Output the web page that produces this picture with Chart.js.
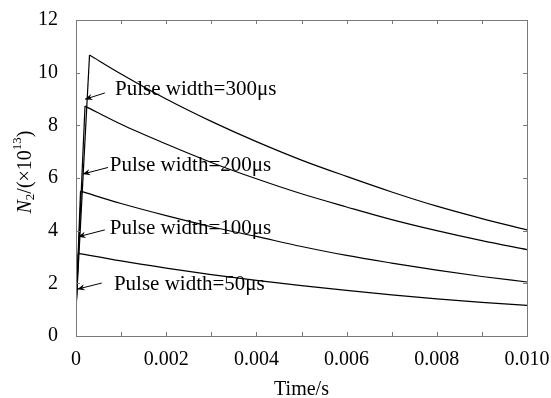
<!DOCTYPE html>
<html>
<head>
<meta charset="utf-8">
<script src="https://cdn.jsdelivr.net/npm/chart.js@4.4.1/dist/chart.umd.min.js"></script>
<style>
  html, body { margin: 0; padding: 0; background: #fff; }
  #wrap { width: 551px; height: 398px; }
</style>
</head>
<body>
<div id="wrap"><canvas id="chart"></canvas></div>
<script>
// pulse widths in μs, peak times in s
const pulseWidths = [300, 200, 100, 50];
const startValue = 1.0;
const peakTimes = [0.0003, 0.0002, 0.0001, 0.00005];
const peakValues = [10.67, 8.73, 5.5, 3.14];

// decay part, N2 in units of 1e13
const decayTimes = [0.001, 0.002, 0.003, 0.004, 0.005, 0.006, 0.007, 0.008, 0.009, 0.010];
const n300 = [9.95, 9.00, 8.15, 7.38, 6.68, 6.06, 5.47, 4.93, 4.46, 4.03];
const n200 = [8.04, 7.29, 6.59, 5.97, 5.40, 4.90, 4.42, 4.00, 3.62, 3.28];
const n100 = [5.03, 4.57, 4.15, 3.78, 3.40, 3.06, 2.77, 2.50, 2.26, 2.05];
const n50  = [2.85, 2.58, 2.33, 2.11, 1.91, 1.73, 1.56, 1.41, 1.28, 1.16];
const decays = [n300, n200, n100, n50];

const xTicks = [0, 0.002, 0.004, 0.006, 0.008, 0.010];
const yTicks = [0, 2, 4, 6, 8, 10, 12];

// annotation text + arrows, in data units (time, value)
const labelTexts = ['Pulse width=300μs', 'Pulse width=200μs', 'Pulse width=100μs', 'Pulse width=50μs'];
const labelPos   = [[0.000865, 9.38], [0.00075, 6.49], [0.00075, 4.10], [0.00084, 1.97]];
const arrowTips  = [[0.0002, 8.99], [0.00015, 6.15], [0.00005, 3.77], [0.00003, 1.78]];
const arrowTails = [[0.00064, 9.23], [0.00071, 6.40], [0.00064, 4.03], [0.00057, 2.01]];

const SERIF = '"Liberation Serif", "Times New Roman", serif';
const AXIS_GREY = '#7a7a7a';

let datasets = [];
pulseWidths.forEach((pw, i) => {
    // pulse on: straight rise
    datasets.push({
        label: pw + 'μs rise',
        data: [{ x: 0, y: startValue }, { x: peakTimes[i], y: peakValues[i] }],
        borderColor: '#000', borderWidth: 1.2, pointRadius: 0, tension: 0, fill: false
    });
    // pulse off: decay
    let pts = [{ x: peakTimes[i], y: peakValues[i] }];
    decayTimes.forEach((t, k) => pts.push({ x: t, y: decays[i][k] }));
    datasets.push({
        label: pw + 'μs',
        data: pts,
        borderColor: '#000', borderWidth: 1.2, pointRadius: 0,
        cubicInterpolationMode: 'monotone', fill: false
    });
});

const decorPlugin = {
    id: 'decor',
    afterDraw(chart) {
        const ctx = chart.ctx;
        const a = chart.chartArea;
        const xs = chart.scales.x, ys = chart.scales.y;
        ctx.save();

        // frame
        ctx.strokeStyle = AXIS_GREY;
        ctx.lineWidth = 1;
        ctx.strokeRect(Math.round(a.left) + 0.5, Math.round(a.top) + 0.5,
            Math.round(a.right - a.left), Math.round(a.bottom - a.top));

        // inward ticks, every 0.001 on x and every 2 on y
        ctx.beginPath();
        for (let i = 1; i < 10; i++) {
            const px = Math.round(xs.getPixelForValue(i / 1000)) + 0.5;
            ctx.moveTo(px, a.bottom); ctx.lineTo(px, a.bottom - 4);
            ctx.moveTo(px, a.top); ctx.lineTo(px, a.top + 4);
        }
        yTicks.slice(1, -1).forEach(v => {
            const py = Math.round(ys.getPixelForValue(v)) + 0.5;
            ctx.moveTo(a.left, py); ctx.lineTo(a.left + 4, py);
            ctx.moveTo(a.right, py); ctx.lineTo(a.right - 4, py);
        });
        ctx.stroke();

        // arrows
        ctx.strokeStyle = '#000';
        ctx.fillStyle = '#000';
        ctx.lineWidth = 1;
        arrowTips.forEach((tip, i) => {
            const x1 = xs.getPixelForValue(arrowTails[i][0]), y1 = ys.getPixelForValue(arrowTails[i][1]);
            const x2 = xs.getPixelForValue(tip[0]), y2 = ys.getPixelForValue(tip[1]);
            const ang = Math.atan2(y2 - y1, x2 - x1);
            ctx.beginPath();
            ctx.moveTo(x1, y1); ctx.lineTo(x2, y2);
            ctx.stroke();
            ctx.beginPath();
            ctx.moveTo(x2, y2);
            ctx.lineTo(x2 - 8 * Math.cos(ang - 0.4), y2 - 8 * Math.sin(ang - 0.4));
            ctx.lineTo(x2 - 5 * Math.cos(ang), y2 - 5 * Math.sin(ang));
            ctx.lineTo(x2 - 8 * Math.cos(ang + 0.4), y2 - 8 * Math.sin(ang + 0.4));
            ctx.closePath();
            ctx.fill();
        });

        // labels
        ctx.font = '21px ' + SERIF;
        ctx.textAlign = 'left';
        ctx.textBaseline = 'middle';
        labelTexts.forEach((txt, i) => {
            ctx.fillText(txt, xs.getPixelForValue(labelPos[i][0]), ys.getPixelForValue(labelPos[i][1]));
        });

        // y title: N2/(x10^13), N italic
        const parts = [
            { t: 'N', f: 'italic 20px ' + SERIF, dy: 0 },
            { t: '2', f: '13px ' + SERIF, dy: 5 },
            { t: '/(×10', f: '20px ' + SERIF, dy: 0 },
            { t: '13', f: '13px ' + SERIF, dy: -8 },
            { t: ')', f: '20px ' + SERIF, dy: 0 }
        ];
        let total = 0;
        parts.forEach(p => { ctx.font = p.f; p.w = ctx.measureText(p.t).width; total += p.w; });
        ctx.translate(26, (a.top + a.bottom) / 2 - 6);
        ctx.rotate(-Math.PI / 2);
        ctx.textAlign = 'left';
        ctx.textBaseline = 'middle';
        let cx = -total / 2;
        parts.forEach(p => {
            ctx.font = p.f;
            ctx.fillText(p.t, cx, p.dy);
            cx += p.w;
        });
        ctx.restore();
    }
};

const ctx = document.getElementById('chart').getContext('2d');
const chart = new Chart(ctx, {
    type: 'line',
    data: { datasets: datasets },
    plugins: [decorPlugin],
    options: {
        responsive: true,
        maintainAspectRatio: false,
        animation: false,
        layout: { padding: { left: 0, right: 24, top: 20, bottom: 0 } },
        plugins: { legend: { display: false }, tooltip: { enabled: false } },
        scales: {
            x: {
                type: 'linear',
                min: 0, max: 0.010,
                afterBuildTicks: s => { s.ticks = xTicks.map(v => ({ value: v })); },
                afterFit: s => { s.height = 62; s.paddingLeft = 0; s.paddingRight = 0; },
                grid: { display: false },
                border: { display: false },
                ticks: {
                    color: '#000',
                    padding: 4,
                    maxRotation: 0,
                    font: { family: SERIF, size: 20 },
                    callback: v => v === 0 ? '0' : v.toFixed(3)
                },
                title: {
                    display: true,
                    text: 'Time/s',
                    color: '#000',
                    padding: { top: 0, bottom: -4 },
                    font: { family: SERIF, size: 20 }
                }
            },
            y: {
                min: 0, max: 12,
                afterBuildTicks: s => { s.ticks = yTicks.map(v => ({ value: v })); },
                afterFit: s => { s.width = 76; s.paddingTop = 0; s.paddingBottom = 0; },
                grid: { display: false },
                border: { display: false },
                ticks: {
                    color: '#000',
                    padding: 10,
                    font: { family: SERIF, size: 20 }
                }
            }
        }
    }
});
</script>
</body>
</html>
